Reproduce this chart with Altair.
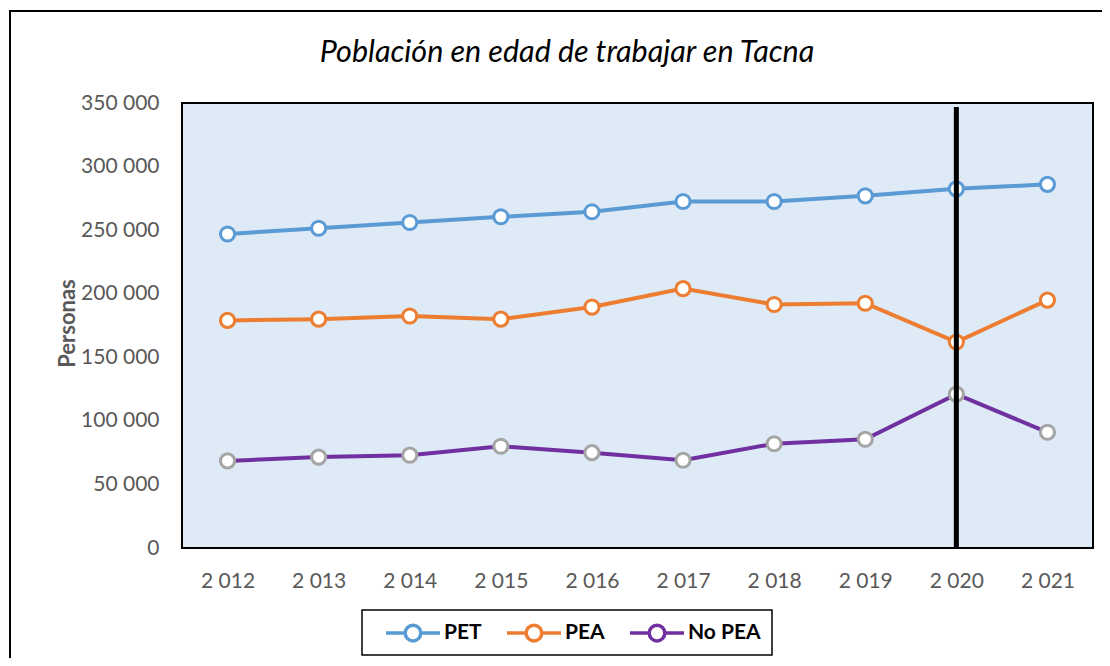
import altair as alt
import pandas as pd

years = ["2 012", "2 013", "2 014", "2 015", "2 016", "2 017", "2 018", "2 019", "2 020", "2 021"]
pet = [247000, 251500, 256000, 260500, 264500, 272500, 272500, 277000, 282500, 286000]
pea = [179000, 180000, 182500, 180000, 189500, 204000, 191500, 192500, 162000, 195000]
no_pea = [68500, 71500, 73000, 80000, 75000, 69000, 82000, 85500, 121000, 91000]
series = ["PET", "PEA", "No PEA"]
line_colors = ["#5B9BD5", "#ED7D31", "#7030A0"]
marker_colors = ["#5B9BD5", "#ED7D31", "#A5A5A5"]
marker_year = ["2 020"]
y_ticks = [0, 50000, 100000, 150000, 200000, 250000, 300000, 350000]
title_text = ["Población en edad de trabajar en Tacna"]

rows = []
for name, vals in zip(series, [pet, pea, no_pea]):
    for yr, v in zip(years, vals):
        rows.append({"year": yr, "value": v, "series": name})
df = pd.DataFrame(rows)

FONT = "Lato"
W, H = 911, 445

x_enc = alt.X("year:N", sort=years,
              scale=alt.Scale(type="point", padding=0.5),
              axis=alt.Axis(title=None, labelAngle=0, labelPadding=22))
y_enc = alt.Y("value:Q", scale=alt.Scale(domain=[0, 350000], nice=False),
              axis=alt.Axis(values=y_ticks, title="Personas",
                            labelExpr="replace(format(datum.value, ','), ',', ' ')",
                            labelPadding=23, titleFont=FONT, titleFontSize=22,
                            titleFontWeight="bold", titleColor="#595959",
                            titleX=-115, titleY=220, titleAlign="center",
                            titleBaseline="middle", titleAngle=270))

base = alt.Chart(df).encode(x=x_enc, y=y_enc)

legend_path = ("M-1,0L-0.29,0M0.29,0L1,0"
               "M-0.29,0A0.29,0.29,0,1,1,0.29,0A0.29,0.29,0,1,1,-0.29,0Z")

lines = base.mark_line(strokeWidth=4).encode(
    color=alt.Color("series:N", sort=series,
                    scale=alt.Scale(domain=series, range=line_colors),
                    legend=alt.Legend(title=None, orient="none", legendX=202, legendY=501,
                                      direction="horizontal",
                                      symbolType=legend_path,
                                      symbolSize=2916, symbolStrokeWidth=3.5,
                                      symbolFillColor="white",
                                      labelFont=FONT, labelFontSize=21, labelFontWeight="bold",
                                      labelColor="black", labelOffset=2, columnPadding=18,
                                      padding=0))
)

points = base.mark_point(fill="white", size=200, strokeWidth=3, opacity=1).encode(
    stroke=alt.Stroke("series:N", sort=series,
                      scale=alt.Scale(domain=series, range=marker_colors),
                      legend=None)
)

rule = alt.Chart(pd.DataFrame({"year": marker_year})).mark_rule(
    color="black", strokeWidth=5).encode(
    x=alt.X("year:N", sort=years), y=alt.value(4), y2=alt.value(H))

legend_box = alt.Chart(pd.DataFrame({"a": [0]})).mark_rect(
    fill="transparent", stroke="black", strokeWidth=1.5).encode(
    x=alt.value(180), x2=alt.value(590), y=alt.value(507), y2=alt.value(552))

frame = alt.Chart(pd.DataFrame({"a": [0]})).mark_rect(
    fill="transparent", stroke="black", strokeWidth=2).encode(
    x=alt.value(-172), x2=alt.value(1100), y=alt.value(-92), y2=alt.value(700))

title = alt.Chart(pd.DataFrame({"t": title_text})).mark_text(
    font=FONT, fontSize=30.5, fontStyle="italic", color="black",
    align="center", baseline="alphabetic").encode(
    text="t:N", x=alt.value(385), y=alt.value(-41))

chart = alt.layer(frame, title, lines, points, rule, legend_box).resolve_scale(
    color="independent", stroke="independent"
).properties(
    width=W, height=H,
    autosize=alt.AutoSizeParams(type="none"),
    padding={"left": 174, "top": 95, "right": 9, "bottom": 110},
    background="white",
).configure_view(
    stroke="black", strokeWidth=2, fill="#DEEAF6"
).configure_axis(
    grid=False, domain=False, ticks=False,
    labelFont=FONT, labelFontSize=21, labelColor="#595959"
)

chart.save("out.html", embed_options={"renderer": "svg", "actions": False})
